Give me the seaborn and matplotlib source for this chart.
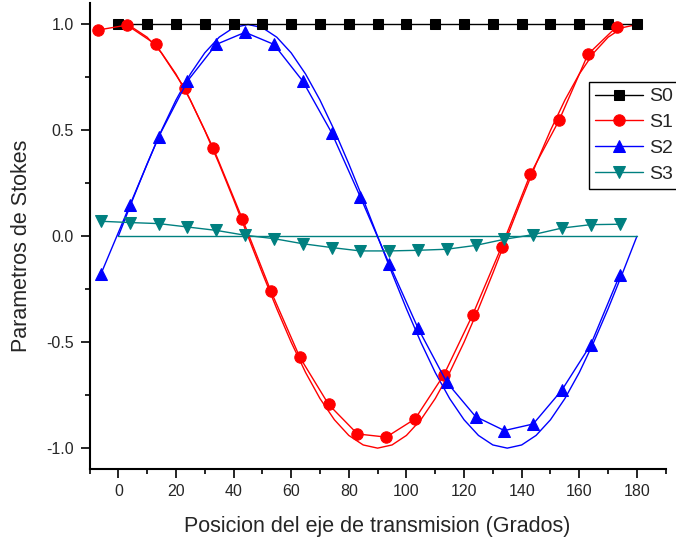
import matplotlib
matplotlib.use("Agg")
import matplotlib.pyplot as plt
import seaborn as sns
import pandas as pd
from matplotlib.ticker import MultipleLocator

sns.set_style("ticks")
plt.rcParams['font.family'] = ['Liberation Sans', 'DejaVu Sans']

# measured data
s0_angle = [0, 10, 20, 30, 40, 50, 60, 70, 80, 90, 100, 110, 120, 130, 140, 150, 160, 170, 180]
s0_vals = [1.0] * 19

s1_angle = [-7, 3, 13, 23, 33, 43, 53, 63, 73, 83, 93, 103, 113, 123, 133, 143, 153, 163, 173]
s1_vals = [0.974, 0.997, 0.906, 0.70, 0.415, 0.084, -0.26, -0.571, -0.794, -0.933,
           -0.948, -0.862, -0.654, -0.370, -0.050, 0.293, 0.548, 0.859, 0.99]

s2_angle = [-6, 4, 14, 24, 34, 44, 54, 64, 74, 84, 94, 104, 114, 124, 134, 144, 154, 164, 174]
s2_vals = [-0.177, 0.147, 0.47, 0.733, 0.906, 0.963, 0.906, 0.733, 0.49, 0.186,
           -0.129, -0.433, -0.689, -0.851, -0.917, -0.886, -0.725, -0.511, -0.184]

s3_angle = [-6, 4, 14, 24, 34, 44, 54, 64, 74, 84, 94, 104, 114, 124, 134, 144, 154, 164, 174]
s3_vals = [0.071, 0.065, 0.06, 0.044, 0.028, 0.005, -0.011, -0.035, -0.053, -0.069,
           -0.069, -0.066, -0.061, -0.043, -0.014, 0.008, 0.039, 0.055, 0.057]

# theoretical curves (5 degree steps)
th_angle = list(range(0, 181, 5))
th_s1 = [1.0, 0.985, 0.940, 0.866, 0.766, 0.643, 0.5, 0.342, 0.174, 0.0,
         -0.174, -0.342, -0.5, -0.643, -0.766, -0.866, -0.940, -0.985, -1.0,
         -0.985, -0.940, -0.866, -0.766, -0.643, -0.5, -0.342, -0.174, 0.0,
         0.174, 0.342, 0.5, 0.643, 0.766, 0.866, 0.940, 0.985, 1.0]
th_s2 = [0.0, 0.174, 0.342, 0.5, 0.643, 0.766, 0.866, 0.940, 0.985, 1.0,
         0.985, 0.940, 0.866, 0.766, 0.643, 0.5, 0.342, 0.174, 0.0,
         -0.174, -0.342, -0.5, -0.643, -0.766, -0.866, -0.940, -0.985, -1.0,
         -0.985, -0.940, -0.866, -0.766, -0.643, -0.5, -0.342, -0.174, 0.0]
th_s3 = [0.0] * 37

labels = ["S0", "S1", "S2", "S3"]
colors = ["#000000", "#ff0000", "#0000ff", "#008080"]

fig = plt.figure(figsize=(6.76, 5.42), dpi=100)
ax = fig.add_axes([0.1324, 0.1341, 0.8524, 0.8598])

# theory lines
for yv, c in [(th_s1, colors[1]), (th_s2, colors[2]), (th_s3, colors[3])]:
    sns.lineplot(x=th_angle, y=yv, color=c, lw=1.0, ax=ax, sort=False, legend=False,
                 estimator=None)

# measured
series = [(s0_angle, s0_vals, 's', 7), (s1_angle, s1_vals, 'o', 8.2),
          (s2_angle, s2_vals, '^', 9), (s3_angle, s3_vals, 'v', 9)]
for (xa, ya, mk, ms), lab, c in zip(series, labels, colors):
    sns.lineplot(x=xa, y=ya, color=c, lw=1.0, marker=mk, markersize=ms,
                 markeredgecolor=c, markerfacecolor=c, ax=ax, sort=False,
                 estimator=None, label=lab)

ax.set_xlim(-10, 190)
ax.set_ylim(-1.1, 1.1)
ax.xaxis.set_major_locator(MultipleLocator(20))
ax.xaxis.set_minor_locator(MultipleLocator(10))
ax.yaxis.set_major_locator(MultipleLocator(0.5))
ax.yaxis.set_minor_locator(MultipleLocator(0.25))
ax.set_yticks([-1.0, -0.5, 0.0, 0.5, 1.0])
ax.set_yticklabels(["-1.0", "-0.5", "0.0", "0.5", "1.0"])
ax.set_xticks([0, 20, 40, 60, 80, 100, 120, 140, 160, 180])
ax.tick_params(axis='both', which='major', direction='out', length=6.5, width=1.2,
               labelsize=11.5, color='black')
ax.tick_params(axis='both', which='minor', direction='out', length=3.5, width=1.2, color='black')
ax.tick_params(axis='y', which='major', pad=5)
ax.tick_params(axis='x', which='major', pad=4)
for s in ['top', 'right']:
    ax.spines[s].set_visible(False)
for s in ['left', 'bottom']:
    ax.spines[s].set_linewidth(1.5)
    ax.spines[s].set_color('black')

ax.set_xlabel("Posicion del eje de transmision (Grados)", fontsize=15.5, labelpad=12)
ax.set_ylabel("Parametros de Stokes", fontsize=15.5)
ax.yaxis.set_label_coords(-0.0998, 0.48)

leg = ax.legend(loc='upper left', bbox_to_anchor=(0.8713, 0.8487),
                bbox_transform=fig.transFigure, fontsize=14,
                frameon=True, fancybox=False, edgecolor='black', framealpha=1,
                handlelength=2.5, handletextpad=0.3, labelspacing=0.42,
                borderpad=0.3, borderaxespad=0)
leg.get_frame().set_linewidth(1.0)

fig.savefig("out.png", dpi=100)
